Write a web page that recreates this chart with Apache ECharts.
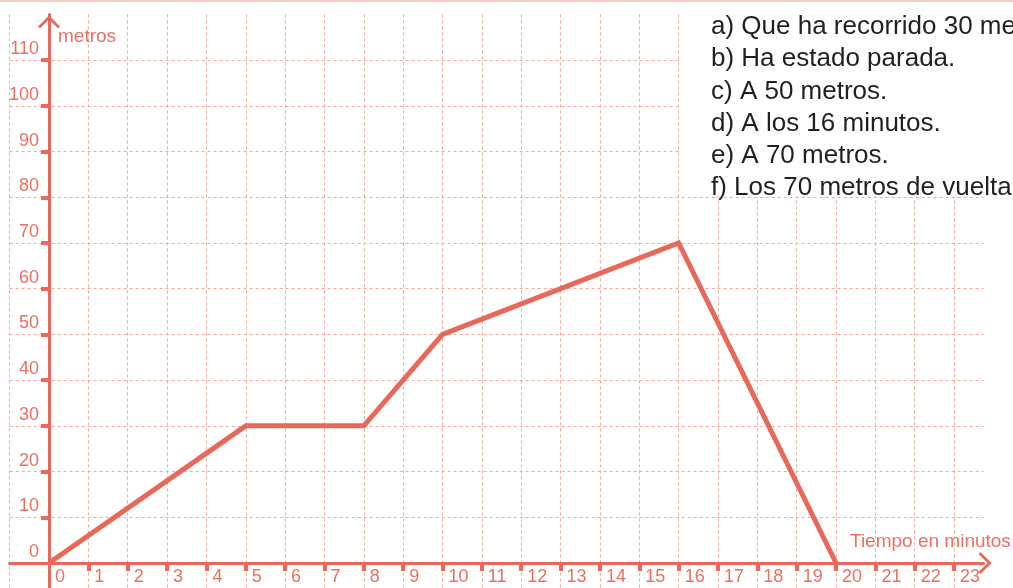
<!DOCTYPE html>
<html><head><meta charset="utf-8">
<script src="https://cdn.jsdelivr.net/npm/echarts@6/dist/echarts.min.js"></script>
<style>html,body{margin:0;padding:0;background:#fff}#c{width:1013px;height:588px}</style>
</head><body><div id="c"></div>
<script>
const minutes = [0, 5, 8, 10, 16, 20];
const metres = [0, 30, 30, 50, 70, 0];
const xTickValues = [1,2,3,4,5,6,7,8,9,10,11,12,13,14,15,16,17,18,19,20,21,22,23];
const xLabelValues = [0,1,2,3,4,5,6,7,8,9,10,11,12,13,14,15,16,17,18,19,20,21,22,23];
const yTickValues = [10,20,30,40,50,60,70,80,90,100,110];
const yLabelValues = [0,10,20,30,40,50,60,70,80,90,100,110];
const yName = 'metros';
const xName = 'Tiempo en minutos';
const answers = [
  'a) Que ha recorrido 30 metros.',
  'b) Ha estado parada.',
  'c) A 50 metros.',
  'd) A los 16 minutos.',
  'e) A 70 metros.',
  'f) Los 70 metros de vuelta a casa.'
];

const RED = '#E8685A';
const LABEL = '#EA7062';
const GRIDC = '#F3A898';
const FONT = '"Liberation Sans", Arial, Helvetica, sans-serif';
const chevron = 'path://M12,0 L24,12 L21.6,14 L12,4.2 L2.4,14 L0,12 Z';

const chart = echarts.init(document.getElementById('c'), null, {renderer: 'canvas'});
const data = minutes.map((m, i) => [m, metres[i]]);

const answerTexts = answers.map((t, i) => ({
  type: 'text', z: 11, left: 711, top: 14 + i * 32.2,
  style: {text: t, fill: '#231F20', font: '26px ' + FONT}
}));

function pick(list) {
  return function (v) {
    for (let i = 0; i < list.length; i++) { if (Math.abs(list[i] - v) < 1e-6) return String(list[i]); }
    return '';
  };
}

chart.setOption({
  animation: false,
  backgroundColor: '#fff',
  grid: {left: 9.65, top: 14.43, right: 29.4, bottom: -20.7, containLabel: false, outerBoundsMode: 'none'},
  xAxis: [{
    type: 'value', min: -1, max: 23.75, interval: 1, position: 'bottom', offset: -45.7,
    axisLine: {show: true, onZero: false, lineStyle: {color: RED, width: 3},
      symbol: ['none', chevron], symbolSize: [22, 14], symbolOffset: [0, 1.5]},
    axisTick: {show: true, inside: false, length: 8, customValues: xTickValues,
      lineStyle: {color: RED, width: 4}},
    axisLabel: {show: true, formatter: pick(xLabelValues), color: LABEL, fontSize: 18,
      fontFamily: FONT, align: 'left', verticalAlign: 'top', margin: 5, padding: [0, 0, 0, 6]},
    splitLine: {show: false}
  }, {
    type: 'value', min: -1, max: 23.75, interval: 1, position: 'top',
    axisLine: {show: false}, axisTick: {show: false}, axisLabel: {show: false},
    splitLine: {show: true, showMinLine: true, showMaxLine: false,
      lineStyle: {color: GRIDC, width: 1, type: [3, 3]}}
  }],
  yAxis: [{
    type: 'value', min: -10, max: 120, interval: 10, position: 'left', offset: -39.35,
    axisLine: {show: true, onZero: false, lineStyle: {color: RED, width: 3},
      symbol: ['none', chevron], symbolSize: [22, 13], symbolOffset: [0, -7.5]},
    axisTick: {show: true, inside: false, length: 8, customValues: yTickValues,
      lineStyle: {color: RED, width: 4}},
    axisLabel: {show: true, formatter: pick(yLabelValues), color: LABEL, fontSize: 18,
      fontFamily: FONT, align: 'right', verticalAlign: 'bottom', margin: 10, padding: [0, 0, 2, 0]},
    splitLine: {show: false}
  }, {
    type: 'value', min: -10, max: 120, interval: 10, position: 'right',
    axisLine: {show: false}, axisTick: {show: false}, axisLabel: {show: false},
    splitLine: {show: true, showMinLine: true, showMaxLine: false,
      lineStyle: {color: GRIDC, width: 1, type: [3, 3]}}
  }],
  series: [{
    type: 'line', xAxisIndex: 0, yAxisIndex: 0, data: data,
    symbol: 'none', z: 5,
    lineStyle: {color: RED, width: 5, join: 'miter', cap: 'butt'}
  }],
  graphic: [
    {type: 'rect', z: 10, shape: {x: 682, y: 0, width: 331, height: 196.5}, style: {fill: '#fff'}},
    {type: 'rect', z: 12, shape: {x: 0, y: 0, width: 1013, height: 2}, style: {fill: '#F8CDBF'}},
    {type: 'text', z: 11, left: 58, top: 27, style: {text: yName, fill: LABEL, font: '19px ' + FONT}},
    {type: 'text', z: 11, left: 850, top: 532, style: {text: xName, fill: LABEL, font: '19px ' + FONT}}
  ].concat(answerTexts)
});
</script>
</body></html>
